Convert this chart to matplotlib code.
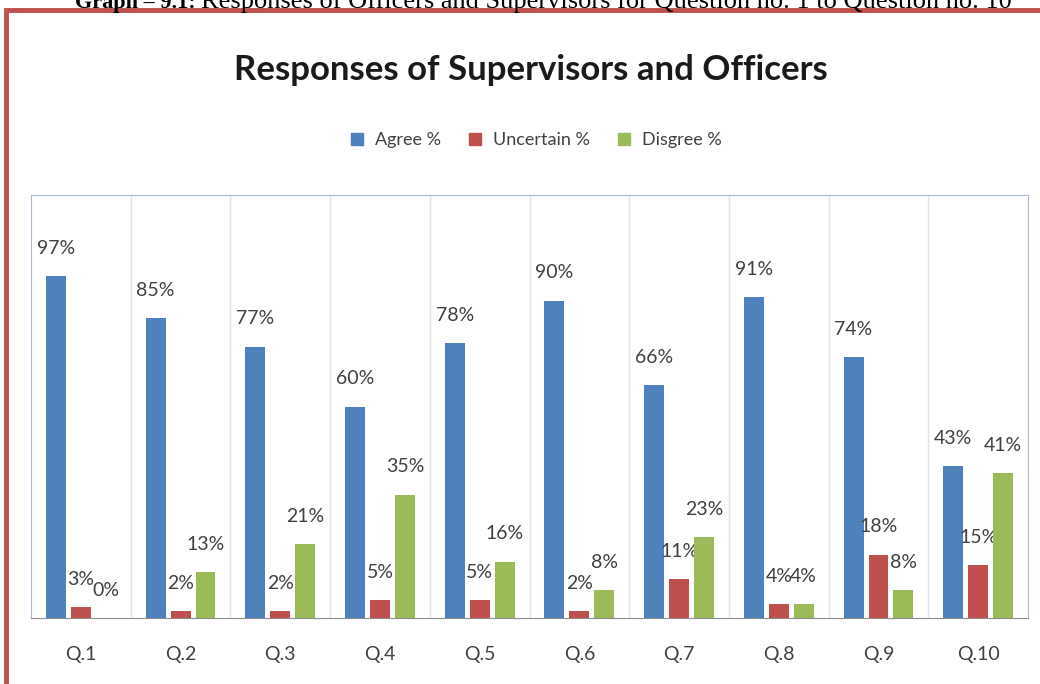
import matplotlib.pyplot as plt
from matplotlib.patches import Rectangle
from matplotlib.lines import Line2D
import numpy as np

# Datos de la encuesta
preguntas = ["Q.1", "Q.2", "Q.3", "Q.4", "Q.5", "Q.6", "Q.7", "Q.8", "Q.9", "Q.10"]
agree = [97, 85, 77, 60, 78, 90, 66, 91, 74, 43]
uncertain = [3, 2, 2, 5, 5, 2, 11, 4, 18, 15]
disagree = [0, 13, 21, 35, 16, 8, 23, 4, 8, 41]

series = [("Agree %", agree, "#4F81BD"),
          ("Uncertain %", uncertain, "#C0504D"),
          ("Disgree %", disagree, "#9BBB59")]

plt.rcParams['font.family'] = ['Lato', 'DejaVu Sans']

fig = plt.figure(figsize=(10.4, 6.84), dpi=100)
ax = fig.add_axes([0.0298, 0.0965, 0.9587, 0.6184])

x = np.arange(len(preguntas))
ancho = 0.2
desplaz = [-0.25, 0, 0.25]
for (nombre, vals, color), d in zip(series, desplaz):
    barras = ax.bar(x + d, vals, ancho, color=color, label=nombre, zorder=3)
    for b, v in zip(barras, vals):
        ax.annotate(f"{v}%", (b.get_x() + b.get_width() / 2, v),
                    xytext=(0, 20), textcoords="offset points",
                    ha="center", va="center", fontsize=14, color="#404040")

ax.set_xlim(-0.5, len(preguntas) - 0.5)
ax.set_ylim(0, 120)
ax.set_yticks([])
ax.set_xticks(x)
ax.set_xticklabels(preguntas, fontsize=14, color="#404040")
ax.tick_params(axis="x", length=0, pad=20)

# lineas verticales entre categorias
for xb in np.arange(0.5, len(preguntas) - 0.5, 1):
    ax.axvline(xb, color="#E4E4E4", lw=1, zorder=1)

for lado in ["top", "left", "right"]:
    ax.spines[lado].set_color("#A7BBD3")
ax.spines["bottom"].set_color("#8C8C8C")

# titulo y leyenda
fig.text(0.510, 0.898, "Responses of Supervisors and Officers", ha="center", va="center",
         fontsize=25, fontweight="bold", color="#1A1A1A")
handles = [Line2D([], [], marker="s", ls="none", markersize=8, color=c) for _, _, c in series]
fig.legend(handles, [n for n, _, _ in series], loc="center", bbox_to_anchor=(0.51, 0.795),
           ncol=3, frameon=False, fontsize=13, handletextpad=0.0, columnspacing=0.9,
           labelcolor="#404040")

# marco rojo de la pagina
fig.patches.append(Rectangle((6 / 1040, -0.05), 1.2, 1 - 10 / 684 + 0.05,
                             transform=fig.transFigure, fill=False,
                             edgecolor="#C0504D", lw=3.5))

# encabezado del documento (cortado arriba)
serif = ["Liberation Serif", "DejaVu Serif"]
fig.text(0.072, 1 - 8 / 684, "Graph – 9.1:", ha="left", va="baseline",
         fontsize=16, fontweight="bold", family=serif)
fig.text(0.193, 1 - 8 / 684,
         "Responses of Officers and Supervisors for Question no. 1 to Question no. 10",
         ha="left", va="baseline", fontsize=19, family=serif)

fig.savefig("out.png", dpi=100)
